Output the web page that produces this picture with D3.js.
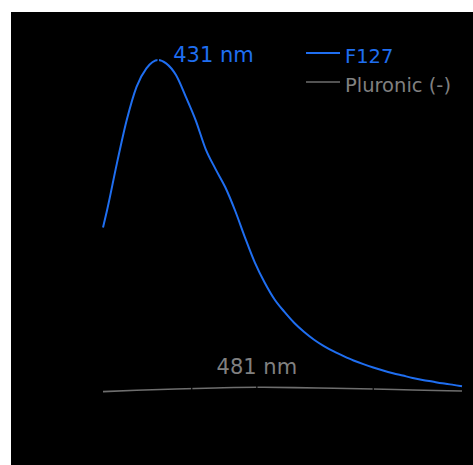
<!DOCTYPE html>
<html>
<head>
<meta charset="utf-8">
<script src="https://cdn.jsdelivr.net/npm/d3@7"></script>
<style>
  body { margin: 0; background: #fff; }
  svg { display: block; }
</style>
</head>
<body>
<svg></svg>
<script>
// wavelength (nm) and emission intensity (a.u., peak = 100)
let wavelengths = [403,405,410,415,420,425,431,435,440,445,450,455,460,465,470,475,480,485,490,495,500,505,510,515,520,525,530,535,540,545,550,555,560,565,570,575,580,585]
let f127 = [50,55,69,82,92,97.5,100,99,95.5,89,82,73.5,67.5,62,55,47,39.5,33.5,28.5,24.8,21.5,18.8,16.5,14.6,13,11.6,10.3,9.2,8.2,7.3,6.5,5.8,5.1,4.5,4.0,3.5,3.1,2.6]

let wlGrey = [403,420,440,460,481,500,520,540,560,585]
let pluronicNone = [1.0,1.4,1.8,2.1,2.3,2.2,2.0,1.8,1.5,1.2]

let seriesNames = ["F127", "Pluronic (-)"]
let peakLabels = ["431 nm", "481 nm"]
let peaks = [431, 481]
let markers = [448, 481, 540]   // little breaks in the grey trace

let width = 473
let height = 465

let blue = "#1f6ef0"
let grey = "#6e6e6e"
let greyText = "#808080"

let svg = d3.select('svg').attr("width", width).attr("height", height)

svg.append("rect").attr("x", 11).attr("y", 12)
    .attr("width", width - 11).attr("height", height - 12)
    .attr("fill", "#000")

let xScale = d3.scaleLinear().domain([403, 585]).range([103, 462])
let yScale = d3.scaleLinear().domain([0, 100]).range([395, 60])

let line = d3.line()
    .x(d => xScale(d[0]))
    .y(d => yScale(d[1]))
    .curve(d3.curveMonotoneX)

svg.append("path")
    .datum(wlGrey.map((w, i) => [w, pluronicNone[i]]))
    .attr("d", line)
    .attr("fill", "none")
    .attr("stroke", grey)
    .attr("stroke-width", 1.6)

svg.append("path")
    .datum(wavelengths.map((w, i) => [w, f127[i]]))
    .attr("d", line)
    .attr("fill", "none")
    .attr("stroke", blue)
    .attr("stroke-width", 2)

// black tick at the blue peak
svg.append("line")
    .attr("x1", xScale(peaks[0])).attr("x2", xScale(peaks[0]))
    .attr("y1", yScale(100) - 5).attr("y2", yScale(100) + 5)
    .attr("stroke", "#000").attr("stroke-width", 1.5)

svg.selectAll(".mark")
    .data(markers)
    .enter()
    .append("line")
    .attr("class", "mark")
    .attr("x1", d => xScale(d)).attr("x2", d => xScale(d))
    .attr("y1", yScale(4)).attr("y2", yScale(-1))
    .attr("stroke", "#000").attr("stroke-width", 1.2)

let font = "'DejaVu Sans', sans-serif"

svg.append("text")
    .attr("x", xScale(peaks[0]) + 15).attr("y", 62)
    .attr("fill", blue).attr("font-family", font).attr("font-size", 21)
    .text(peakLabels[0])

svg.append("text")
    .attr("x", xScale(peaks[1])).attr("y", 374)
    .attr("text-anchor", "middle")
    .attr("fill", greyText).attr("font-family", font).attr("font-size", 21)
    .text(peakLabels[1])

// legend
let legend = svg.append("g").attr("transform", "translate(306,53)")
let legColors = [blue, grey]
let legText = [blue, greyText]

seriesNames.forEach((name, i) => {
    let g = legend.append("g").attr("transform", "translate(0," + (i * 29) + ")")
    g.append("line").attr("x1", 0).attr("x2", 34).attr("y1", 0).attr("y2", 0)
        .attr("stroke", legColors[i]).attr("stroke-width", i == 0 ? 2 : 1.6)
    g.append("text").attr("x", 39).attr("y", 10)
        .attr("fill", legText[i]).attr("font-family", font).attr("font-size", 19.5)
        .text(name)
})
</script>
</body>
</html>
